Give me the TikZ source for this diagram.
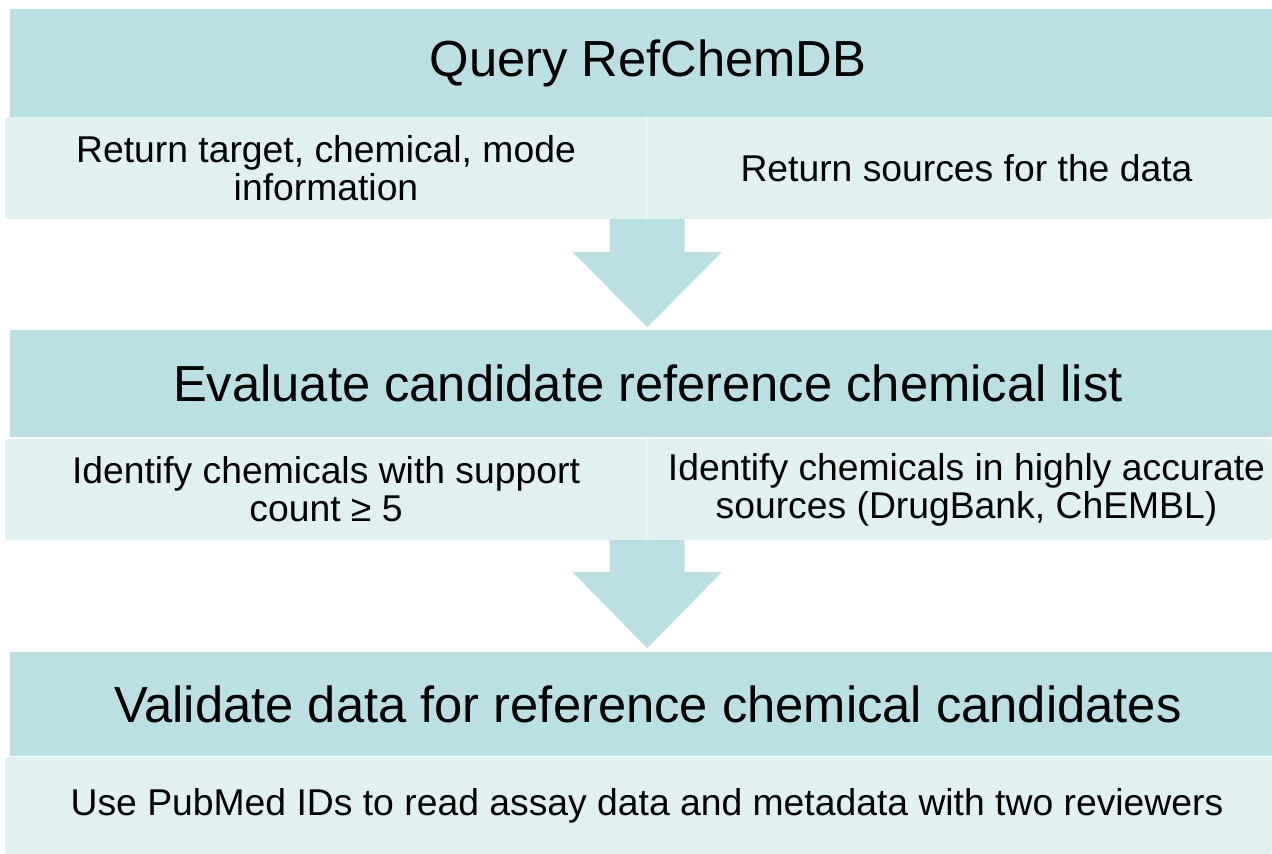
\documentclass[tikz,border=0pt]{standalone}
\usepackage{fontspec}
\setmainfont{Liberation Sans}
\usetikzlibrary{calc}
\definecolor{headcol}{HTML}{BAE0E3}
\definecolor{subcol}{HTML}{E1F1F2}
\definecolor{splitcol}{HTML}{EBF6F7}
\tikzset{
    head/.style={fill=headcol,inner sep=0pt,minimum width=1262pt,font=\fontsize{50.7}{56}\selectfont,execute at begin node=\hspace*{14pt}},
    sub/.style={fill=subcol,rounded corners=3pt,inner sep=0pt,align=center,font=\fontsize{37.3}{38}\selectfont},
    bigarrow/.style={fill=headcol}
}
\begin{document}
\begin{tikzpicture}[x=1pt,y=-1pt]
    \useasboundingbox (0,0) rectangle (1272,854);
    % step 1
    \node[head,minimum height=108pt] (query) at (641,63) {Query RefChemDB};
    \node[sub,minimum width=642pt,minimum height=102pt] (queryl) at (326,168) {Return target, chemical, mode\\information};
    \node[sub,minimum width=625pt,minimum height=102pt] (queryr) at (959.5,168) {\hspace*{14pt}Return sources for the data};
    \draw[splitcol,line width=2pt] (queryl.north east)--(queryl.south east);
    % step 2
    \node[head,minimum height=107pt] (eval) at (641,383.5) {Evaluate candidate reference chemical list};
    \node[sub,minimum width=642pt,minimum height=101pt] (evall) at (326,489.5) {Identify chemicals with support\\count ≥ 5};
    \node[sub,minimum width=625pt,minimum height=101pt] (evalr) at (959.5,489.5) {\hspace*{14pt}Identify chemicals in highly accurate\\\hspace*{14pt}sources (DrugBank, ChEMBL)};
    \draw[splitcol,line width=2pt] (evall.north east)--(evall.south east);
    % step 3
    \node[head,minimum height=104pt] (valid) at (641,704) {Validate data for reference chemical candidates};
    \node[sub,minimum width=1267pt,minimum height=97pt] (validb) at (638.5,805.5) {\hspace*{17pt}Use PubMed IDs to read assay data and metadata with two reviewers};
    % arrows between steps
    \fill[bigarrow] ([xshift=-37.5pt]queryl.south east) -- ++(0,33) -- ++(-37,0) -- ++(74.5,75) -- ++(74.5,-75) -- ++(-37,0) -- ++(0,-33) -- cycle;
    \fill[bigarrow] ([xshift=-37.5pt]evall.south east) -- ++(0,32) -- ++(-37,0) -- ++(74.5,76) -- ++(74.5,-76) -- ++(-37,0) -- ++(0,-32) -- cycle;
\end{tikzpicture}
\end{document}
